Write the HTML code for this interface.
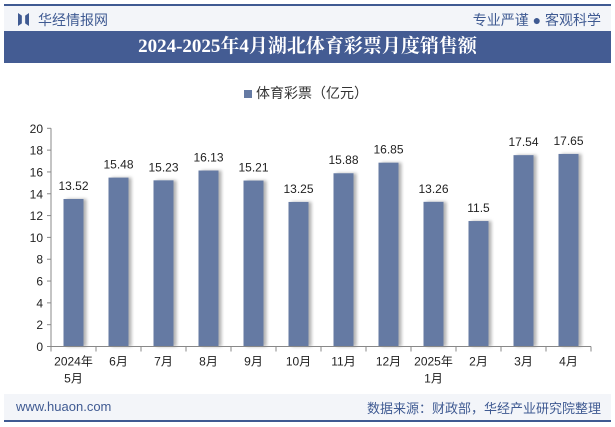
<!DOCTYPE html>
<html><head><meta charset="utf-8"><style>
body{margin:0;width:615px;height:427px;background:#fff;font-family:"Liberation Sans","Noto Sans CJK SC",sans-serif;overflow:hidden;position:relative}
.abs{position:absolute}
</style></head><body>
<div class="abs" style="left:4px;top:4px;width:607px;height:2px;background:#3f5a92"></div>
<div class="abs" style="left:4px;top:6px;width:607px;height:25px;background:#f3f5f9"></div>
<div class="abs" style="left:18px;top:13px;width:11px;height:13px;background:#3f5a92;clip-path:polygon(0 0,35% 20%,35% 80%,0 100%,0 0,100% 0,100% 100%,65% 80%,65% 20%,100% 0)"></div>
<div class="abs" style="left:38px;top:10px;font-size:14px;color:#3f5a92">华经情报网</div>
<div class="abs" style="right:14px;top:10px;font-size:14px;color:#3f5a92">专业严谨 ● 客观科学</div>
<div class="abs" style="left:4px;top:31px;width:607px;height:32px;background:#445c93;color:#fff;font-family:'Liberation Serif','Noto Serif CJK SC',serif;font-weight:bold;font-size:19px;text-align:center;line-height:32px">2024-2025年4月湖北体育彩票月度销售额</div>
<div class="abs" style="left:244px;top:83px;font-size:14px;color:#333"><span style="display:inline-block;width:8px;height:8px;background:#657aa3;margin-right:4px"></span>体育彩票（亿元）</div>
<svg class="abs" style="left:0;top:0" width="615" height="427">
<defs><filter id="sh" x="-20%" y="-5%" width="150%" height="110%"><feDropShadow dx="3" dy="0" stdDeviation="1.5" flood-color="#000" flood-opacity="0.3"/></filter></defs>
<g id="yax"></g>
<g id="bars"></g>
<g id="xax"></g>
</svg>
<div class="abs" style="left:4px;top:394px;width:607px;height:26px;background:#f3f5f9"></div>
<div class="abs" style="left:4px;top:420px;width:607px;height:2px;background:#3f5a92"></div>
<div class="abs" style="left:16px;top:399px;font-size:13px;color:#3f5a92">www.huaon.com</div>
<div class="abs" style="right:14px;top:398px;font-size:13px;color:#3f5a92">数据来源：财政部，华经产业研究院整理</div>
<script>
const categories=["2024年\n5月","6月","7月","8月","9月","10月","11月","12月","2025年\n1月","2月","3月","4月"];
const values=[13.52,15.48,15.23,16.13,15.21,13.25,15.88,16.85,13.26,11.5,17.54,17.65];
const labels=["13.52","15.48","15.23","16.13","15.21","13.25","15.88","16.85","13.26","11.5","17.54","17.65"];
const yTicks=[0,2,4,6,8,10,12,14,16,18,20];
const NS="http://www.w3.org/2000/svg";
const x0=51,bw=45,y0=346.5,yTop=128.3,yMax=20;
const ys=v=>y0-(v/yMax)*(y0-yTop);
const xs=i=>x0+bw*i+bw/2;
function mk(t,a,p){const e=document.createElementNS(NS,t);for(const k in a)e.setAttribute(k,a[k]);p.appendChild(e);return e;}
const ya=document.getElementById('yax'),ba=document.getElementById('bars'),xa=document.getElementById('xax');
mk('line',{x1:x0,y1:yTop,x2:x0,y2:y0,stroke:'#888'},ya);
yTicks.forEach(v=>{
 mk('line',{x1:x0-4,y1:ys(v),x2:x0,y2:ys(v),stroke:'#888'},ya);
 const t=mk('text',{x:x0-8,y:ys(v)+4.5,'text-anchor':'end','font-size':'12',fill:'#222'},ya);
 
 
 t.textContent=v;
});
mk('line',{x1:x0,y1:y0,x2:x0+bw*categories.length,y2:y0,stroke:'#888'},xa);
for(let i=0;i<=categories.length;i++)mk('line',{x1:x0+bw*i,y1:y0,x2:x0+bw*i,y2:y0+5,stroke:'#888'},xa);
values.forEach((v,i)=>{
 const r=mk('rect',{x:xs(i)-10,y:ys(v),width:20,height:y0-ys(v),fill:'#657aa3',filter:'url(#sh)'},ba);
 
 
 const t=mk('text',{x:xs(i),y:ys(v)-9,'text-anchor':'middle','font-size':'12',fill:'#222'},ba);
 
 
 t.textContent=labels[i];
});
categories.forEach((c,i)=>{
 c.split('\n').forEach((ln,j)=>{
  const t=mk('text',{x:xs(i),y:y0+19+j*17,'text-anchor':'middle','font-size':'12',fill:'#222','font-family':'Liberation Sans,Noto Sans CJK SC,sans-serif'},xa);
  
  
  t.textContent=ln;
 });
});
</script>
</body></html>
